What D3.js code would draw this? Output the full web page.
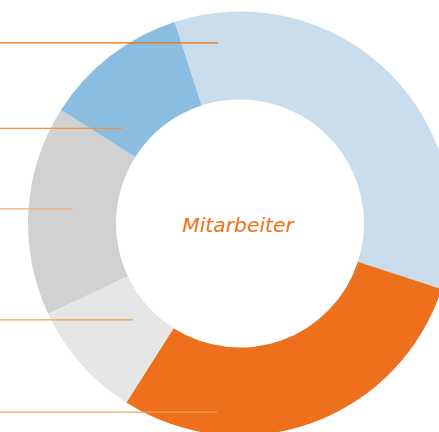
<!DOCTYPE html>
<html>
<head>
    <meta charset="utf-8">
    <title>Mitarbeiter</title>
    <script src="https://cdnjs.cloudflare.com/ajax/libs/d3/7.8.5/d3.min.js"></script>
    <style>
        body {
            margin: 0;
            background: white;
            overflow: hidden;
        }
        .center-label {
            font-family: "DejaVu Sans", sans-serif;
            font-style: italic;
            font-size: 20.3px;
            fill: #ee7219;
        }
    </style>
</head>
<body>
    <div id="chart"></div>

    <script>
        // Data (shares in percent, clockwise from the top-left)
        const categories = ['A', 'B', 'C', 'D', 'E'];
        const values = [35, 29, 9, 16, 11];
        const sliceColors = ['#cadded', '#ee6f1c', '#e6e6e6', '#d1d1d1', '#8bbde0'];

        // Leader lines: angle (deg) and radius where each line ends, per slice
        const leaderAngles = [-7, 187, 228, 275, 309];
        const leaderRadii = [182, 190, 144, 168, 151];
        const leaderColors = ['#ee7000', '#f6a25c', '#f79c45', '#f3ac78', '#f6913a'];

        // Setup
        const width = 439, height = 432;
        const cx = 240, cy = 223.5;
        const outerR = 212, innerR = 124;

        const svg = d3.select('#chart')
            .append('svg')
            .attr('width', width)
            .attr('height', height);

        const g = svg.append('g')
            .attr('transform', `translate(${cx},${cy})`);

        const pie = d3.pie()
            .sort(null)
            .value(d => d)
            .startAngle(-18 * Math.PI / 180)
            .endAngle(342 * Math.PI / 180);

        const arc = d3.arc()
            .innerRadius(innerR)
            .outerRadius(outerR);

        g.selectAll('.slice')
            .data(pie(values))
            .enter()
            .append('path')
            .attr('class', 'slice')
            .attr('d', arc)
            .attr('fill', (d, i) => sliceColors[i]);

        // Leader lines from the left edge into each slice
        g.selectAll('.leader')
            .data(categories)
            .enter()
            .append('line')
            .attr('class', 'leader')
            .attr('x1', -cx)
            .attr('y1', (d, i) => -Math.cos(leaderAngles[i] * Math.PI / 180) * leaderRadii[i])
            .attr('x2', (d, i) => Math.sin(leaderAngles[i] * Math.PI / 180) * leaderRadii[i])
            .attr('y2', (d, i) => -Math.cos(leaderAngles[i] * Math.PI / 180) * leaderRadii[i])
            .attr('stroke', (d, i) => leaderColors[i])
            .attr('stroke-width', 1.2);

        // Center label
        g.append('text')
            .attr('class', 'center-label')
            .attr('text-anchor', 'middle')
            .attr('x', -2)
            .attr('y', 8.2)
            .text('Mitarbeiter');
    </script>
</body>
</html>
